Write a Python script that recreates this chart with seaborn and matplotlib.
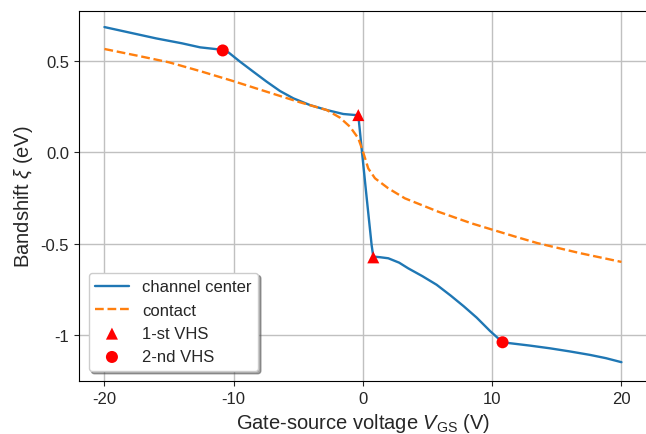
import matplotlib
matplotlib.use("Agg")
import matplotlib.pyplot as plt
import seaborn as sns
import pandas as pd

# Channel center bandshift vs gate-source voltage
center_v = [-20, -18, -16, -14, -12.6, -11.2, -10.8, -10.4, -9.5, -8.49, -7.45, -6.42,
            -5.39, -4.1, -2.81, -1.52, -0.7, -0.36, -0.1, 0.29, 0.67, 0.8, 1.3, 1.96,
            2.8, 3.5, 4.6, 5.7, 6.8, 7.8, 8.8, 9.83, 10.8, 11.37, 12.9, 14.47, 16.0,
            17.56, 18.8, 20]
center_xi = [0.686, 0.655, 0.624, 0.597, 0.575, 0.564, 0.56, 0.547, 0.496, 0.442, 0.387, 0.336,
             0.296, 0.259, 0.232, 0.21, 0.205, 0.204, 0.02, -0.25, -0.507, -0.571, -0.574, -0.58,
             -0.604, -0.635, -0.678, -0.725, -0.785, -0.843, -0.905, -0.978, -1.04, -1.045,
             -1.058, -1.073, -1.09, -1.109, -1.127, -1.149]

# Contact bandshift
contact_v = [-20, -17.5, -15, -12.6, -10.03, -7.45, -4.87, -2.81, -1.78, -1.0, -0.36, 0.02,
             0.41, 0.93, 1.96, 3.25, 5.83, 8.41, 11.76, 13.5, 16.8, 20]
contact_xi = [0.566, 0.53, 0.493, 0.445, 0.39, 0.332, 0.274, 0.232, 0.19, 0.14, 0.077, 0.0,
              -0.088, -0.142, -0.197, -0.252, -0.325, -0.389, -0.461, -0.497, -0.552, -0.6]

# Van Hove singularity points
vhs1_v = [-0.36, 0.8]
vhs1_xi = [0.204, -0.575]
vhs2_v = [-10.85, 10.8]
vhs2_xi = [0.558, -1.04]

x_ticks = [-20, -10, 0, 10, 20]
x_labels = ["-20", "-10", "0", "10", "20"]
y_ticks = [0.5, 0.0, -0.5, -1.0]
y_labels = ["0.5", "0.0", "-0.5", "-1"]

sns.set_style("ticks")
plt.rcParams["font.family"] = ["Liberation Sans", "DejaVu Sans"]
plt.rcParams["mathtext.fontset"] = "custom"
plt.rcParams["mathtext.rm"] = "Liberation Sans"
plt.rcParams["mathtext.it"] = "Liberation Sans:italic"
plt.rcParams["axes.unicode_minus"] = False

fig = plt.figure(figsize=(6.46, 4.35), dpi=100)
ax = fig.add_axes([78.6 / 646, 1 - 382 / 435, 568.7 / 646, 370 / 435])

df_c = pd.DataFrame({"v": center_v, "xi": center_xi})
df_k = pd.DataFrame({"v": contact_v, "xi": contact_xi})

sns.lineplot(df_c, x="v", y="xi", color="#1f77b4", lw=1.7, sort=False,
             estimator=None, label="channel center", ax=ax)
sns.lineplot(df_k, x="v", y="xi", color="#ff7f0e", lw=1.7, sort=False,
             estimator=None, label="contact", ax=ax, linestyle="--")
sns.scatterplot(x=vhs1_v, y=vhs1_xi, marker="^", color="red", s=75, edgecolor="none",
                label="1-st VHS", ax=ax, zorder=3)
sns.scatterplot(x=vhs2_v, y=vhs2_xi, marker="o", color="red", s=75, edgecolor="none",
                label="2-nd VHS", ax=ax, zorder=3)

ax.set_xlim(-22, 22)
ax.set_ylim(-1.252, 0.774)
ax.set_xticks(x_ticks, labels=x_labels, fontsize=12)
ax.set_yticks(y_ticks, labels=y_labels, fontsize=12)
ax.grid(True, color="#c0c0c0", lw=1)
ax.set_axisbelow(True)
for s in ax.spines.values():
    s.set_color("black")
ax.set_xlabel(r"Gate-source voltage $V_{\rm GS}$ (V)", fontsize=14.5)
ax.set_ylabel(r"Bandshift $\xi$ (eV)", fontsize=14.5)

ax.legend(loc="lower left", shadow=True, fontsize=12, frameon=True, fancybox=True,
          framealpha=1, borderaxespad=0.6)

fig.savefig("out.png", dpi=100)
